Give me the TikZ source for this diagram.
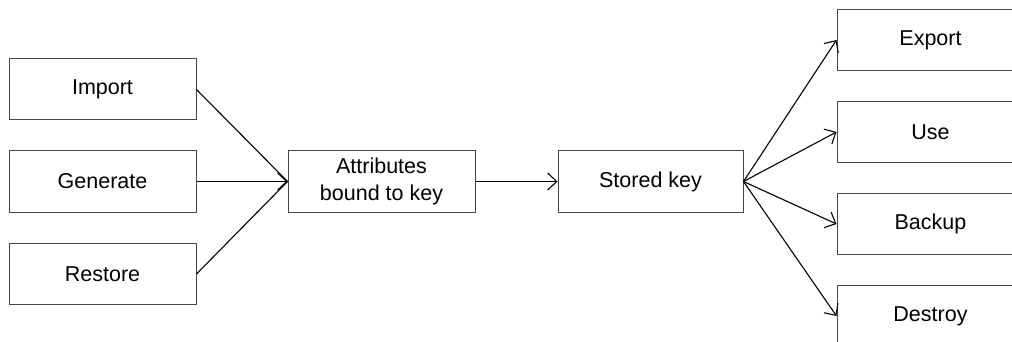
\documentclass[tikz,border=0pt]{standalone}
\usepackage{fontspec}
\setmainfont{Liberation Sans}
\usetikzlibrary{arrows.meta}
\begin{document}
\begin{tikzpicture}[x=1pt,y=-1pt,
  box/.style={draw=black!72,line width=1pt,minimum width=187pt,minimum height=61pt,inner sep=0pt,
    align=center,font=\fontsize{21.5}{27}\selectfont},
  conn/.style={line width=1.1pt,-{Straight Barb[length=9pt,width=17pt,line width=1.1pt]}}]
\useasboundingbox (0,0) rectangle (1012,342);
\node[box] (imp) at (102.5,89.5) {Import};
\node[box] (gen) at (102.5,181.5) {Generate};
\node[box] (res) at (102.5,274) {Restore};
\node[box] (att) at (381.5,181.5) {Attributes\\bound to key};
\node[box,minimum width=185pt] (sto) at (650.5,181.5) {Stored key};
\node[box] (exp) at (930.5,40) {Export};
\node[box] (use) at (930.5,132) {Use};
\node[box] (bak) at (930.5,224) {Backup};
\node[box] (des) at (930.5,316) {Destroy};
\draw[line width=1.1pt] (imp.east) -- (att.west);
\draw[line width=1.1pt] (res.east) -- (att.west);
\draw[conn] (gen.east) -- (att.west);
\draw[conn] (att.east) -- (sto.west);
\draw[conn] (sto.east) -- (exp.west);
\draw[conn] (sto.east) -- (use.west);
\draw[conn] (sto.east) -- (bak.west);
\draw[conn] (sto.east) -- (des.west);
\end{tikzpicture}
\end{document}
